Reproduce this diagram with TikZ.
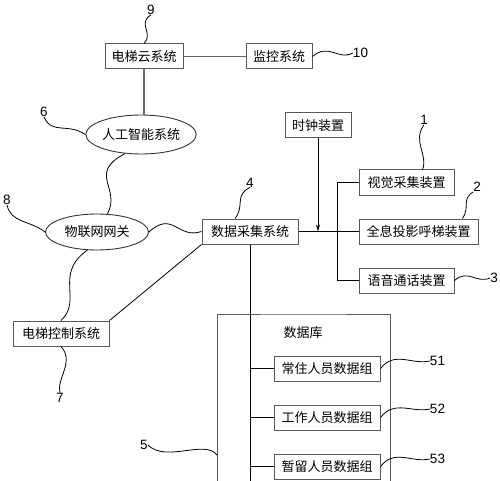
\documentclass[tikz,border=0pt]{standalone}
\usepackage{fontspec}
\setmainfont{Liberation Sans}
\newfontfamily\cjkfont{Noto Sans CJK SC}
\usetikzlibrary{shapes.geometric,arrows.meta,positioning}

\begin{document}
\begin{tikzpicture}[x=1pt, y=-1pt,
    box/.style={draw=black!65, line width=1pt, inner sep=0pt, minimum height=25pt,
      font=\cjkfont\fontsize{13}{15}\selectfont},
    oval/.style={ellipse, draw=black!80, line width=0.9pt, inner sep=0pt,
      font=\cjkfont\fontsize{13}{15}\selectfont},
    num/.style={inner sep=0pt, font=\fontsize{13.5}{15}\selectfont},
    link/.style={draw=black!60, line width=1.2pt},
    wire/.style={draw=black, line width=0.8pt},
    wave/.style={draw=black, line width=0.8pt}]
  \useasboundingbox (0,0) rectangle (500,481);

  % systems
  \node[box, minimum width=78pt] (cloud) at (144,56.5) {电梯云系统};
  \node[box, minimum width=66pt] (monitor) at (279,56.5) {监控系统};
  \node[oval, minimum width=103pt, minimum height=39pt] (ai) at (141,134.5) {人工智能系统};
  \node[oval, minimum width=103pt, minimum height=36pt] (iot) at (97,232) {物联网网关};
  \node[box, minimum width=96pt] (collect) at (250,231.5) {数据采集系统};
  \node[box, minimum width=96pt] (control) at (61,333.5) {电梯控制系统};

  % devices
  \node[box, minimum width=66pt] (clock) at (318,125.5) {时钟装置};
  \node[box, minimum width=95pt] (vision) at (406.5,182.5) {视觉采集装置};
  \node[box, minimum width=119pt] (holo) at (418.5,231.5) {全息投影呼梯装置};
  \node[box, minimum width=95pt] (voice) at (406.5,280.5) {语音通话装置};

  % database
  \coordinate (dbbl) at (217,481);
  \coordinate (dbbr) at (390,481);
  \coordinate (dbleft) at (217,455);
  \coordinate (busend) at (250,481);
  \draw[draw=black!65, line width=1pt] (dbbl) |- (303,314) -| (dbbr);
  \node[inner sep=0pt, font=\cjkfont\fontsize{13}{15}\selectfont] (dbname) at (303,333) {数据库};
  \node[box, minimum width=106pt] (resident) at (327,368.5) {常住人员数据组};
  \node[box, minimum width=106pt] (worker) at (327,417.5) {工作人员数据组};
  \node[box, minimum width=106pt] (visitor) at (327,466.5) {暂留人员数据组};

  % reference numbers
  \node[num] (n1) at (424,120) {1};
  \node[num] (n2) at (477,187) {2};
  \node[num] (n3) at (494,278) {3};
  \node[num] (n4) at (250,182.5) {4};
  \node[num] (n5) at (144,445) {5};
  \node[num] (n6) at (44,112) {6};
  \node[num] (n7) at (60,398) {7};
  \node[num] (n8) at (7,200) {8};
  \node[num] (n9) at (151,10) {9};
  \node[num] (n10) at (360.5,53) {10};
  \node[num] (n51) at (437.5,361) {51};
  \node[num] (n52) at (437.5,409) {52};
  \node[num] (n53) at (437.5,459) {53};

  % connections
  \draw[link] (cloud) -- (monitor);
  \draw[link] (cloud) -- (cloud |- ai.north);
  \draw[wave] (ai.230) .. controls +(-38,20) and +(14,-26) .. (iot.60);
  \draw[wave] (iot.east) .. controls +(24,-22) and +(-24,8) .. (collect.west);
  \draw[wave] (iot.242) .. controls +(-34,24) and +(22,-20) .. (control.north);
  \draw[wire] (collect.south west) -- (control.north east);
  \draw[wire] (collect.east) -- (holo.west);
  \draw[wire, -{Stealth[length=7pt, width=4pt]}] (clock.south) -- (clock.south |- collect.east);
  \draw[wire] (vision.west) -- ++(-21,0) |- (voice.west);
  \draw[wire] (collect.south) -- (busend);
  \foreach \g in {resident, worker, visitor}
    \draw[wire] (\g.west) -- (\g.west -| busend);

  % leaders
  \draw[wave] (n9.south) .. controls +(-14,8) and +(10,-10) .. (cloud.north);
  \draw[wave] (monitor.east) .. controls +(16,-14) and +(-14,8) .. (n10.west);
  \draw[wave] (n6.south) .. controls +(8,18) and +(-18,-12) .. (ai.west);
  \draw[wave] (n8.south) .. controls +(4,18) and +(-16,-12) .. (iot.west);
  \draw[wave] (n4.south) .. controls +(-16,8) and +(10,-12) .. ([xshift=-15pt]collect.north);
  \draw[wave] (control.south) .. controls +(14,15) and +(-4,-14) .. (n7.north);
  \draw[wave] (n1.south) .. controls +(-12,16) and +(6,-14) .. ([xshift=16pt]vision.north);
  \draw[wave] (n2.south west) .. controls +(-12,8) and +(8,-12) .. ([xshift=44pt]holo.north);
  \draw[wave] (voice.east) .. controls +(14,-12) and +(-14,6) .. (n3.west);
  \draw[wave] (n5.east) .. controls +(18,18) and +(-12,-16) .. (dbleft);
  \foreach \g/\n in {resident/n51, worker/n52, visitor/n53}
    \draw[wave] (\g.east) .. controls +(14,-18) and +(-18,4) .. (\n.west);
\end{tikzpicture}
\end{document}
